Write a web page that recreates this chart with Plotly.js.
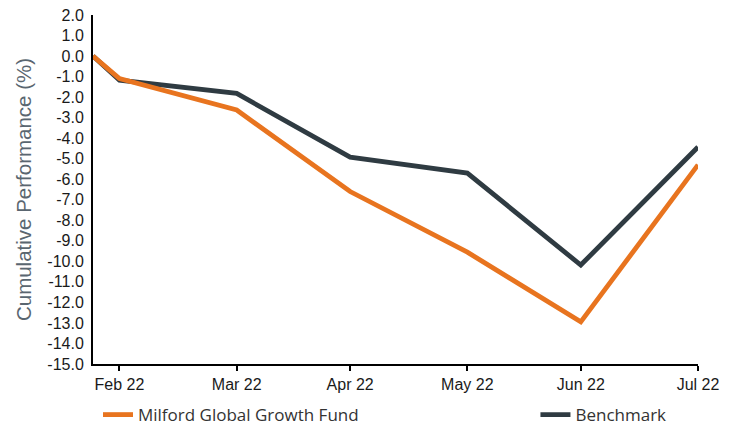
<!DOCTYPE html>
<html>
<head>
<meta charset="utf-8">
<script src="https://cdn.plot.ly/plotly-3.0.1.min.js"></script>
<style>html,body{margin:0;padding:0;background:#fff;}#chart{width:734px;height:427px;}</style>
</head>
<body>
<div id="chart"></div>
<script>
// Data
var dates = ["2022-02-21", "2022-02-28", "2022-03-31", "2022-04-30", "2022-05-31", "2022-06-30", "2022-07-31"];
var fundValues = [0.0, -1.1, -2.63, -6.6, -9.55, -12.95, -5.3];
var benchmarkValues = [0.0, -1.17, -1.82, -4.92, -5.7, -10.18, -4.43];
var fundName = "Milford Global Growth Fund";
var benchmarkName = "Benchmark";
var xTickDates = ["2022-02-28", "2022-03-31", "2022-04-30", "2022-05-31", "2022-06-30", "2022-07-31"];
var xTickLabels = ["Feb 22", "Mar 22", "Apr 22", "May 22", "Jun 22", "Jul 22"];
var yTickValues = [2, 1, 0, -1, -2, -3, -4, -5, -6, -7, -8, -9, -10, -11, -12, -13, -14, -15];
var yTickLabels = yTickValues.map(function (v) { return v.toFixed(1); });

var traces = [
  {
    x: dates, y: benchmarkValues, name: benchmarkName, type: "scatter", mode: "lines",
    line: { color: "#2f3b42", width: 4.8 }, legend: "legend2", hoverinfo: "skip"
  },
  {
    x: dates, y: fundValues, name: fundName, type: "scatter", mode: "lines",
    line: { color: "#e8741f", width: 4.8 }, legend: "legend", hoverinfo: "skip"
  }
];

var layout = {
  width: 734, height: 427,
  margin: { l: 93, r: 36, t: 15, b: 63 },
  paper_bgcolor: "#ffffff", plot_bgcolor: "#ffffff",
  font: { family: "Liberation Sans, Arial, sans-serif", size: 16, color: "#1a1a1a" },
  xaxis: {
    type: "date", automargin: false,
    range: ["2022-02-21", "2022-07-31"],
    tickmode: "array", tickvals: xTickDates, ticktext: xTickLabels,
    showgrid: false, zeroline: false,
    showline: true, linecolor: "#000", linewidth: 2,
    ticks: "outside", ticklen: 5, tickwidth: 2, tickcolor: "#000",
    tickfont: { size: 16, color: "#1a1a1a" }
  },
  yaxis: {
    range: [-15, 2], automargin: false,
    tickmode: "array", tickvals: yTickValues, ticktext: yTickLabels,
    showgrid: false, zeroline: false,
    showline: true, linecolor: "#000", linewidth: 2,
    ticks: "", ticklabelstandoff: 4,
    tickfont: { size: 16, color: "#1a1a1a" },
    title: { text: "Cumulative Performance (%)", font: { size: 20.5, color: "#5a6670" }, standoff: 10 }
  },
  showlegend: true,
  legend: {
    orientation: "h", xref: "container", yref: "container",
    x: 0.1335, xanchor: "left", y: 0.028, yanchor: "middle",
    font: { family: "Open Sans, sans-serif", size: 17, color: "#333333" },
    bgcolor: "rgba(0,0,0,0)"
  },
  legend2: {
    orientation: "h", xref: "container", yref: "container",
    x: 0.7295, xanchor: "left", y: 0.028, yanchor: "middle",
    font: { family: "Open Sans, sans-serif", size: 17, color: "#333333" },
    bgcolor: "rgba(0,0,0,0)"
  }
};

Plotly.newPlot("chart", traces, layout, { displayModeBar: false, staticPlot: true });
</script>
</body>
</html>
